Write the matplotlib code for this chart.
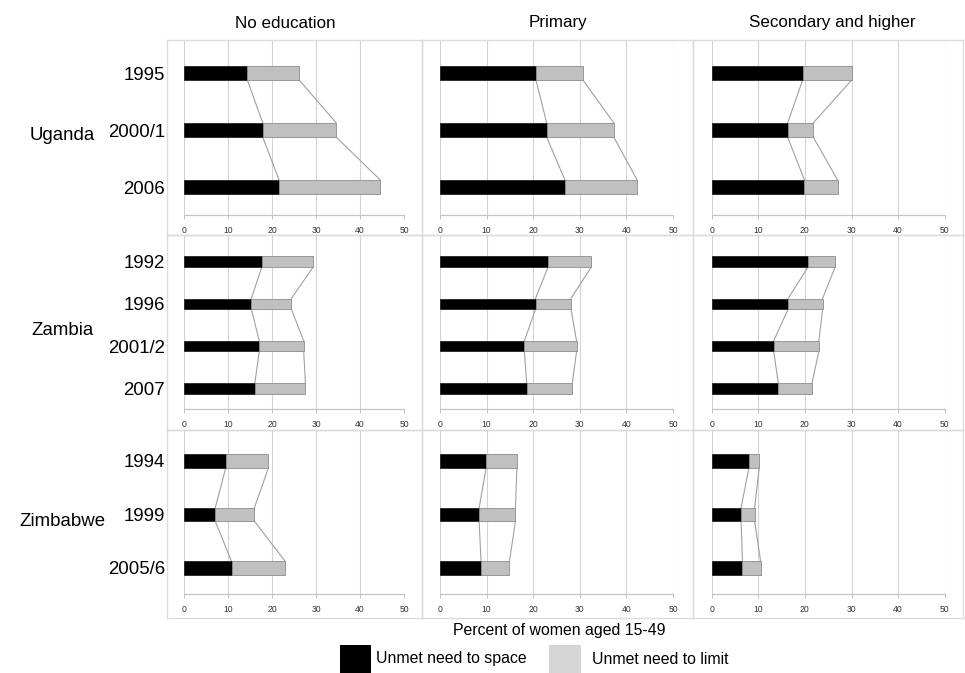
import matplotlib
matplotlib.use("Agg")
import matplotlib.pyplot as plt
from matplotlib import font_manager as fm
from matplotlib.patches import Rectangle

# ---------------- data ----------------
countries = ["Uganda", "Zambia", "Zimbabwe"]
education = ["No education", "Primary", "Secondary and higher"]
years = {
    "Uganda": ["1995", "2000/1", "2006"],
    "Zambia": ["1992", "1996", "2001/2", "2007"],
    "Zimbabwe": ["1994", "1999", "2005/6"],
}
# unmet need to space (percent)
space_uganda = {"No education": [14.4, 17.9, 21.6],
                "Primary": [20.6, 22.9, 26.8],
                "Secondary and higher": [19.5, 16.3, 19.9]}
space_zambia = {"No education": [17.7, 15.3, 17.1, 16.1],
                "Primary": [23.2, 20.5, 18.1, 18.6],
                "Secondary and higher": [20.7, 16.4, 13.3, 14.3]}
space_zimbabwe = {"No education": [9.5, 7.1, 10.8],
                  "Primary": [9.9, 8.4, 8.8],
                  "Secondary and higher": [8.0, 6.3, 6.6]}
# unmet need to limit (percent)
limit_uganda = {"No education": [11.8, 16.7, 23.0],
                "Primary": [10.1, 14.4, 15.5],
                "Secondary and higher": [10.5, 5.5, 7.1]}
limit_zambia = {"No education": [11.7, 9.1, 10.1, 11.5],
                "Primary": [9.3, 7.6, 11.2, 9.8],
                "Secondary and higher": [5.8, 7.4, 9.7, 7.2]}
limit_zimbabwe = {"No education": [9.7, 8.9, 12.2],
                  "Primary": [6.6, 7.8, 6.1],
                  "Secondary and higher": [2.2, 2.9, 3.9]}
space = {"Uganda": space_uganda, "Zambia": space_zambia, "Zimbabwe": space_zimbabwe}
limit = {"Uganda": limit_uganda, "Zambia": limit_zambia, "Zimbabwe": limit_zimbabwe}
xticks = [0, 10, 20, 30, 40, 50]
xlabel = "Percent of women aged 15-49"
legend_labels = ["Unmet need to space", "Unmet need to limit"]

# ---------------- fonts ----------------
names = {f.name for f in fm.fontManager.ttflist}
if "Liberation Sans Narrow" in names:
    FONT, SC = "Liberation Sans Narrow", 1.0
else:
    FONT, SC = "Liberation Sans", 0.84
plt.rcParams["font.family"] = [FONT, "DejaVu Sans"]

W, H = 965, 673
fig = plt.figure(figsize=(W / 100, H / 100), dpi=100)


def fx(px):
    return px / W


def fy(py):
    return 1 - py / H


# cell geometry (pixels)
col_edges = [(167, 422), (422, 693), (693, 963)]
row_edges = [(40, 235), (235, 430), (430, 618)]
col_data = [(184, 404), (440, 673), (711.7, 944.7)]   # x of 0 and 50
row_data = [(40, 215), (235, 409), (430, 594)]        # top, axis line
row_ylim = [(2.49, -0.58), (3.485, -0.626), (2.486, -0.579)]
title_x = [285, 558, 832]

GRID = "#d4d4d4"
FRAME = "#dcdcdc"
BAR_H = 0.25

for r, c_name in enumerate(countries):
    for c, ed in enumerate(education):
        # frame cell
        x0, x1 = col_edges[c]
        y0, y1 = row_edges[r]
        fr = fig.add_axes([fx(x0), fy(y1), fx(x1) - fx(x0), fy(y0) - fy(y1)])
        fr.set_xticks([]); fr.set_yticks([])
        fr.patch.set_alpha(0)
        for s in fr.spines.values():
            s.set_color(FRAME); s.set_linewidth(1.0)
        fr.set_zorder(0)

        # inner plotting axes
        d0, d1 = col_data[c]
        t, b = row_data[r]
        ax = fig.add_axes([fx(d0), fy(b), fx(d1) - fx(d0), fy(t) - fy(b)])
        ax.patch.set_alpha(0)
        ax.set_zorder(1)
        ax.set_xlim(0, 50)
        ax.set_ylim(*row_ylim[r])
        for s in ["top", "left", "right"]:
            ax.spines[s].set_visible(False)
        ax.spines["bottom"].set_color("#c4c4c4")
        ax.spines["bottom"].set_linewidth(0.9)
        ax.set_xticks(xticks)
        ax.set_xticklabels([str(v) for v in xticks], fontsize=6.2, color="#333333")
        ax.tick_params(axis="x", length=3, width=0.7, color="#c4c4c4", pad=5)
        ax.grid(axis="x", color=GRID, linewidth=0.8)
        ax.set_axisbelow(True)

        yrs = years[c_name]
        sp = space[c_name][ed]
        li = limit[c_name][ed]
        ypos = list(range(len(yrs)))
        ax.barh(ypos, sp, height=BAR_H, color="black", edgecolor="#222222",
                linewidth=0.6, zorder=3)
        ax.barh(ypos, li, left=sp, height=BAR_H, color="#c0c0c0",
                edgecolor="#8c8c8c", linewidth=0.6, zorder=3)
        tot = [a + bb for a, bb in zip(sp, li)]
        for i in range(len(yrs) - 1):
            ax.plot([sp[i], sp[i + 1]], [ypos[i] + BAR_H / 2, ypos[i + 1] - BAR_H / 2],
                    color="#a0a0a0", lw=0.8, zorder=2)
            ax.plot([tot[i], tot[i + 1]], [ypos[i] + BAR_H / 2, ypos[i + 1] - BAR_H / 2],
                    color="#a0a0a0", lw=0.8, zorder=2)
        if c == 0:
            ax.set_yticks(ypos)
            ax.set_yticklabels(yrs, fontsize=16 * SC)
            ax.tick_params(axis="y", length=0, pad=13.5)
        else:
            ax.set_yticks([])
        if r == 0:
            fig.text(fx(title_x[c]), fy(23), ed, ha="center", va="center",
                     fontsize=14.6 * SC)
    fig.text(fx(62), fy((row_edges[r][0] + row_edges[r][1]) / 2 - 2), c_name,
             ha="center", va="center", fontsize=16 * SC)

fig.text(fx(559), fy(631), xlabel, ha="center", va="center", fontsize=13.6 * SC)

# legend
fig.patches.append(Rectangle((fx(340), fy(675)), fx(31), fy(645) - fy(675),
                             transform=fig.transFigure, facecolor="black",
                             edgecolor="none"))
fig.patches.append(Rectangle((fx(549), fy(675)), fx(32), fy(645) - fy(675),
                             transform=fig.transFigure, facecolor="#d6d6d6",
                             edgecolor="none"))
fig.text(fx(376), fy(659), legend_labels[0], ha="left", va="center", fontsize=13.6 * SC)
fig.text(fx(592), fy(659), legend_labels[1], ha="left", va="center", fontsize=13.6 * SC)

fig.savefig("out.png", dpi=100)
